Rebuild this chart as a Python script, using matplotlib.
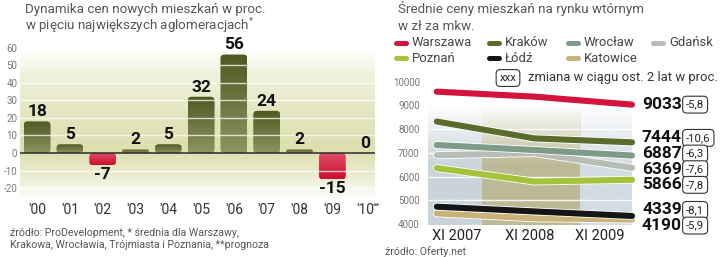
import matplotlib
matplotlib.use('Agg')
import matplotlib.pyplot as plt
import matplotlib.patheffects as pe
import matplotlib.transforms as mtransforms
from matplotlib.patches import FancyBboxPatch
from matplotlib.lines import Line2D
from matplotlib.colors import LinearSegmentedColormap, to_rgb
import numpy as np

# ── data: left chart (dynamics of new flat prices, %) ─────────────────────────
years = ["'00", "'01", "'02", "'03", "'04", "'05", "'06", "'07", "'08", "'09", "'10"]
dynamics = [18, 5, -7, 2, 5, 32, 56, 24, 2, -15, 0]

# ── data: right chart (average secondary-market prices, zł/m2) ───────────────
periods = ['XI 2007', 'XI 2008', 'XI 2009']
cities = ['Warszawa', 'Kraków', 'Wrocław', 'Gdańsk', 'Poznań', 'Łódź', 'Katowice']
warszawa = [9580, 9370, 9033]
krakow = [8320, 7610, 7444]
wroclaw = [7330, 7120, 6887]
gdansk = [6900, 6990, 6369]
poznan = [6360, 5790, 5866]
lodz = [4730, 4530, 4339]
katowice = [4450, 4240, 4190]
change_2y = [-5.8, -10.6, -6.3, -7.6, -7.8, -8.1, -5.9]

series = [warszawa, krakow, wroclaw, gdansk, poznan, lodz, katowice]
city_colors = ['#d4123e', '#5b6b2b', '#7e9b89', '#b9bcb4', '#a6c23a', '#151515', '#c9b27a']

FONT = ['Roboto', 'DejaVu Sans']
plt.rcParams['font.family'] = FONT
plt.rcParams['mathtext.fontset'] = 'custom'
plt.rcParams['mathtext.rm'] = 'Roboto'

W, H = 720, 257
fig = plt.figure(figsize=(W / 100, H / 100), dpi=100)
fig.patch.set_facecolor('white')


def px(x0, y0, w, h):
    # pixel box (top-left origin) -> figure fraction
    return [x0 / W, 1 - (y0 + h) / H, w / W, h / H]


# ── left chart ───────────────────────────────────────────────────────────────
ax1 = fig.add_axes(px(20, 44, 355, 156.5))
x = np.arange(len(years))
ax1.set_xlim(-0.52, 10.3)
ax1.set_ylim(-27, 62)

bg = LinearSegmentedColormap.from_list('bg', [
    (0.00, '#ffffff'), (0.09, '#f3f4e4'), (0.23, '#e5e7c4'), (0.33, '#dcdfae'),
    (0.57, '#e3e5be'), (0.86, '#f1f2de'), (1.00, '#fdfdf8')])
grad = np.linspace(0, 1, 256).reshape(-1, 1)
ax1.imshow(grad, cmap=bg, origin='lower', aspect='auto',
           extent=[-0.52, 10.3, -27, 57], zorder=0)

# aspect between y and x data units in pixels (for rounded corners)
p0 = ax1.transData.transform((0, 0))
p1 = ax1.transData.transform((1, 1))
asp = (p1[0] - p0[0]) / (p1[1] - p0[1])

olive = LinearSegmentedColormap.from_list('olive', ['#8c9463', '#4f5a22'])
red = LinearSegmentedColormap.from_list('red', ['#c90f2f', '#e2506a'])
bw = 0.82
for xi, v in zip(x, dynamics):
    if v == 0:
        continue
    h = abs(v)
    r = min(0.12, h / asp / 2)
    patch = FancyBboxPatch((xi - bw / 2, min(0, v)), bw, h,
                           boxstyle=f'round,pad=0,rounding_size={r}',
                           mutation_aspect=asp, fc='none', ec='none', zorder=2)
    ax1.add_patch(patch)
    cm = olive if v > 0 else red
    im = ax1.imshow(grad, cmap=cm, origin='lower', aspect='auto',
                    extent=[xi - bw / 2, xi + bw / 2, min(0, v), max(0, v)], zorder=2)
    im.set_clip_path(patch)

for g in [-20, -10, 10, 20, 30, 40, 50]:
    ax1.axhline(g, color='white', lw=1.0, alpha=0.75, zorder=3)
ax1.axhline(0, color='#2a2a2a', lw=1.1, zorder=4)

for xi, v in zip(x, dynamics):
    if v >= 0:
        ax1.annotate(f'{v}', (xi, v), xytext=(0, 1.5), textcoords='offset points',
                     ha='center', va='bottom', fontsize=12.5, fontweight='bold',
                     color='#111111', zorder=5)
    else:
        ax1.annotate(f'{v}', (xi, v), xytext=(0, -1.5), textcoords='offset points',
                     ha='center', va='top', fontsize=12.5, fontweight='bold',
                     color='#111111', zorder=5)

ax1.set_xticks(x)
ax1.set_xticklabels(years, fontsize=10, color='#333333')
ax1.set_yticks(range(-20, 61, 10))
ax1.set_yticklabels([str(t) for t in range(-20, 61, 10)], fontsize=7, color='#777777')
ax1.tick_params(axis='x', length=0, pad=1.5)
ax1.tick_params(axis='y', length=0, pad=2)
for s in ax1.spines.values():
    s.set_visible(False)
ax1.annotate('**', (x[-1], 0), xycoords=('data', 'axes fraction'),
             xytext=(5.5, -1.5), textcoords='offset points',
             fontsize=6, color='#333333', ha='left', va='top')

# ── right chart ──────────────────────────────────────────────────────────────
ax2 = fig.add_axes(px(428, 81.7, 204, 143.5))
xr = np.arange(len(periods))
ax2.set_xlim(-0.09, 2.0)
ax2.set_ylim(3950, 10000)

yy = np.linspace(3950, 10000, 200)
alpha = np.clip((9000 - yy) / 2500, 0, 1)
bands = [(-0.09, 0.46, '#c9d3d9'), (0.46, 1.47, '#bcb997'), (1.47, 2.0, '#d2dce2')]
for b0, b1, c in bands:
    rgba = np.zeros((len(yy), 1, 4))
    rgba[:, 0, :3] = to_rgb(c)
    rgba[:, 0, 3] = alpha
    ax2.imshow(rgba, origin='lower', aspect='auto', extent=[b0, b1, 3950, 10000], zorder=0)
for g in range(5000, 10000, 1000):
    ax2.axhline(g, color='white', lw=1.0, alpha=0.85, zorder=1)

for vals, c in zip(series[::-1], city_colors[::-1]):
    ax2.plot(xr, vals, color=c, lw=4.4, solid_capstyle='round', solid_joinstyle='round',
             clip_on=False, zorder=3,
             path_effects=[pe.Stroke(linewidth=5.6, foreground='white'), pe.Normal()])

ax2.set_yticks(range(4000, 10001, 1000))
ax2.set_yticklabels([str(t) for t in range(4000, 10001, 1000)], fontsize=7, color='#777777')
ax2.set_xticks([0.2, 0.95, 1.67])
ax2.set_xticklabels(periods, fontsize=10.5, color='#222222')
ax2.tick_params(axis='y', length=0, pad=6)
ax2.tick_params(axis='x', length=0, pad=3)
for s in ax2.spines.values():
    s.set_visible(False)

# end labels, spread apart where they would collide
ends = [s[-1] for s in series]
label_y = list(map(float, ends))
order = list(np.argsort(ends)[::-1])
gap = 660
for _ in range(80):
    for a, b in zip(order[:-1], order[1:]):
        if label_y[a] - label_y[b] < gap:
            mid = (label_y[a] + label_y[b]) / 2
            label_y[a], label_y[b] = mid + gap / 2, mid - gap / 2

tr = mtransforms.blended_transform_factory(ax2.transAxes, ax2.transData)
for e, ly, ch in zip(ends, label_y, change_2y):
    ax2.text(1.245, ly, f'{e}', transform=tr, ha='right', va='center',
             fontsize=12.5, fontweight='bold', color='#111111', clip_on=False)
    ax2.text(1.265, ly, f'{ch:.1f}'.replace('.', ','), transform=tr, ha='left', va='center',
             fontsize=8.2, color='#222222', clip_on=False,
             bbox=dict(boxstyle='round,pad=0.3,rounding_size=0.35', fc='white',
                       ec='#333333', lw=0.8))

# ── texts, legend (pixel overlay) ────────────────────────────────────────────
ov = fig.add_axes([0, 0, 1, 1])
ov.set_xlim(0, W)
ov.set_ylim(H, 0)
ov.axis('off')

ov.text(25, 9, 'Dynamika cen nowych mieszkań w proc.', fontsize=9.6, color='#555555',
        va='center', ha='left')
ov.text(25, 26, r'w pięciu największych aglomeracjach$^{*}$', fontsize=9.6, color='#555555',
        va='center', ha='left')
ov.text(10, 233, 'źródło: ProDevelopment, * średnia dla Warszawy,', fontsize=7.6,
        color='#555555', va='center', ha='left')
ov.text(10, 245, 'Krakowa, Wrocławia, Trójmiasta i Poznania, **prognoza', fontsize=7.6,
        color='#555555', va='center', ha='left')

ov.text(398, 9, 'Średnie ceny mieszkań na rynku wtórnym', fontsize=9.6, color='#555555',
        va='center', ha='left')
ov.text(398, 26, 'w zł za mkw.', fontsize=9.6, color='#555555', va='center', ha='left')
ov.text(385, 252, 'źródło: Oferty.net', fontsize=7.6, color='#555555', va='center', ha='left')

col_x = [394, 487, 566, 651]
row_y = [43, 58]
for i, (name, c) in enumerate(zip(cities, city_colors)):
    cx, ry = col_x[i % 4], row_y[i // 4]
    ov.add_line(Line2D([cx + 2, cx + 12], [ry, ry], color=c, lw=3.6, solid_capstyle='round'))
    ov.text(cx + 18, ry, name, fontsize=9.4, color='#444444', va='center', ha='left')

ov.text(508, 78, 'xxx', fontsize=8.2, color='#222222', va='center', ha='center',
        bbox=dict(boxstyle='round,pad=0.3,rounding_size=0.35', fc='white', ec='#333333', lw=0.8))
ov.text(528, 78, 'zmiana w ciągu ost. 2 lat w proc.', fontsize=9.4, color='#333333',
        va='center', ha='left')

fig.savefig('out.png', dpi=100, facecolor='white')
